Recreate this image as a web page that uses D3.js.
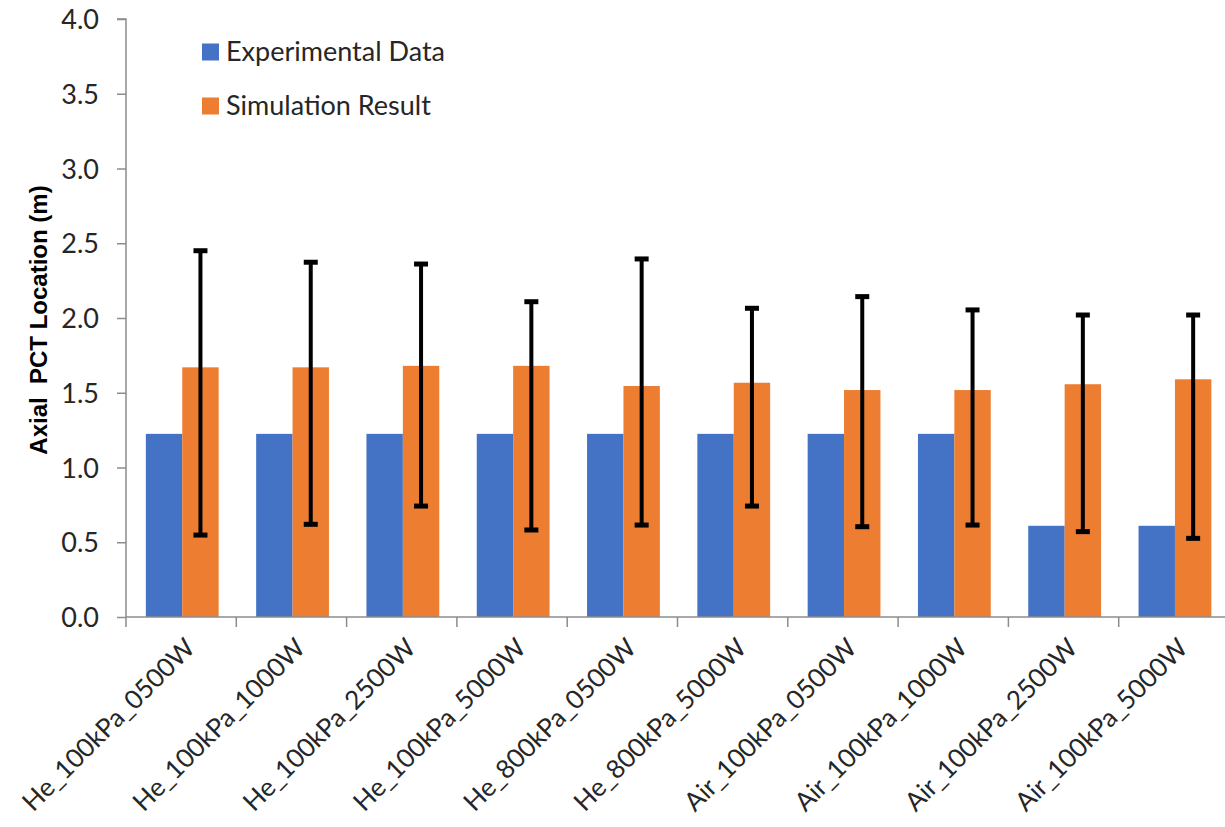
<!DOCTYPE html>
<html>
<head>
<meta charset="utf-8">
<script src="https://cdn.jsdelivr.net/npm/d3@7/dist/d3.min.js"></script>
<style>
  html, body { margin: 0; padding: 0; background: #fff; }
  svg { display: block; }
</style>
</head>
<body>
<svg id="chart" width="1225" height="827"></svg>
<script>
const categories = ["He_100kPa_0500W","He_100kPa_1000W","He_100kPa_2500W","He_100kPa_5000W","He_800kPa_0500W","He_800kPa_5000W","Air_100kPa_0500W","Air_100kPa_1000W","Air_100kPa_2500W","Air_100kPa_5000W"];
const seriesNames = ["Experimental Data","Simulation Result"];
const experimental = [1.225,1.225,1.225,1.225,1.225,1.225,1.225,1.225,0.61,0.61];
const simulation = [1.67,1.67,1.68,1.68,1.545,1.567,1.518,1.518,1.557,1.59];
const errLow = [0.548,0.62,0.742,0.582,0.615,0.742,0.604,0.615,0.571,0.526];
const errHigh = [2.45,2.373,2.361,2.109,2.395,2.065,2.143,2.054,2.02,2.02];
const yTicks = [0,0.5,1,1.5,2,2.5,3,3.5,4];
const colors = ["#4472C4","#ED7D31"];

const svg = d3.select("#chart");
const pLeft = 126, pRight = 1229, pTop = 19, pBottom = 617;

const x = d3.scaleBand().domain(categories).range([pLeft, pRight]).paddingInner(0).paddingOuter(0);
const y = d3.scaleLinear().domain([0, 4]).range([pBottom, pTop]);
const bw = x.bandwidth();
const xs = d3.scaleBand().domain(seriesNames).range([bw*0.18, bw*0.84]).padding(0);

const axisColor = "#8c8c8c";
const textColor = "#262626";
const tickFont = "Lato, 'Open Sans', sans-serif";
const fs = "27px";

// bars
const data = categories.map((c,i)=>({c, vals:[experimental[i], simulation[i]], lo: errLow[i], hi: errHigh[i]}));
const g = svg.append("g");
data.forEach(d => {
  d.vals.forEach((v,j) => {
    g.append("rect")
      .attr("x", x(d.c) + xs(seriesNames[j]))
      .attr("y", y(v))
      .attr("width", xs.bandwidth())
      .attr("height", y(0) - y(v))
      .attr("fill", colors[j]);
  });
});

// error bars on simulation
data.forEach(d => {
  const cx = x(d.c) + xs(seriesNames[1]) + xs.bandwidth()/2;
  g.append("line").attr("x1", cx).attr("x2", cx).attr("y1", y(d.hi)).attr("y2", y(d.lo))
    .attr("stroke", "#000").attr("stroke-width", 4);
  [d.hi, d.lo].forEach(v => {
    g.append("line").attr("x1", cx-7).attr("x2", cx+7).attr("y1", y(v)).attr("y2", y(v))
      .attr("stroke", "#000").attr("stroke-width", 5);
  });
});

// y axis
const yAxis = d3.axisLeft(y).tickValues(yTicks).tickFormat(d3.format(".1f")).tickSize(9).tickPadding(18);
const ya = svg.append("g").attr("transform", `translate(${pLeft},0)`).call(yAxis);
ya.select(".domain").attr("stroke", axisColor).attr("stroke-width", 1.5).attr("d", `M-9,${pTop}H0V${pBottom}`);
ya.selectAll(".tick line").attr("stroke", axisColor).attr("stroke-width", 1.5);
ya.selectAll(".tick text").attr("fill", textColor).style("font-family", tickFont).style("font-size", fs).attr("dy", "0.36em");

// x axis line + boundary ticks
const xa = svg.append("g");
xa.append("line").attr("x1", pLeft).attr("x2", pRight).attr("y1", pBottom).attr("y2", pBottom)
  .attr("stroke", axisColor).attr("stroke-width", 1.5);
const bounds = categories.map(c => x(c)).concat([pRight]);
xa.selectAll("line.tk").data(bounds).enter().append("line").attr("class","tk")
  .attr("x1", d=>d).attr("x2", d=>d).attr("y1", pBottom).attr("y2", pBottom+10)
  .attr("stroke", axisColor).attr("stroke-width", 1.5);
xa.selectAll("text").data(categories).enter().append("text")
  .attr("transform", d => `translate(${x(d) + bw/2 + 9},${pBottom + 26}) rotate(-45)`)
  .attr("text-anchor", "end")
  .attr("dy", "0.35em")
  .attr("fill", textColor)
  .style("font-family", tickFont).style("font-size", "26px")
  .text(d => d);

// y title
svg.append("text")
  .attr("transform", `translate(47,320) rotate(-90)`)
  .attr("text-anchor", "middle")
  .attr("fill", "#000")
  .style("font-family", "'Liberation Sans', Arial, sans-serif")
  .style("font-weight", "bold").style("font-size", "24px")
  .style("white-space", "pre")
  .text("Axial  PCT Location (m)");

// legend
const lg = svg.append("g");
seriesNames.forEach((s,i) => {
  const cy = 52 + i*54;
  lg.append("rect").attr("x", 202).attr("y", cy-8.5).attr("width", 17).attr("height", 17).attr("fill", colors[i]);
  lg.append("text").attr("x", 226).attr("y", cy).attr("dy", "0.35em")
    .attr("fill", textColor).style("font-family", tickFont).style("font-size", fs).text(s);
});
</script>
</body>
</html>
